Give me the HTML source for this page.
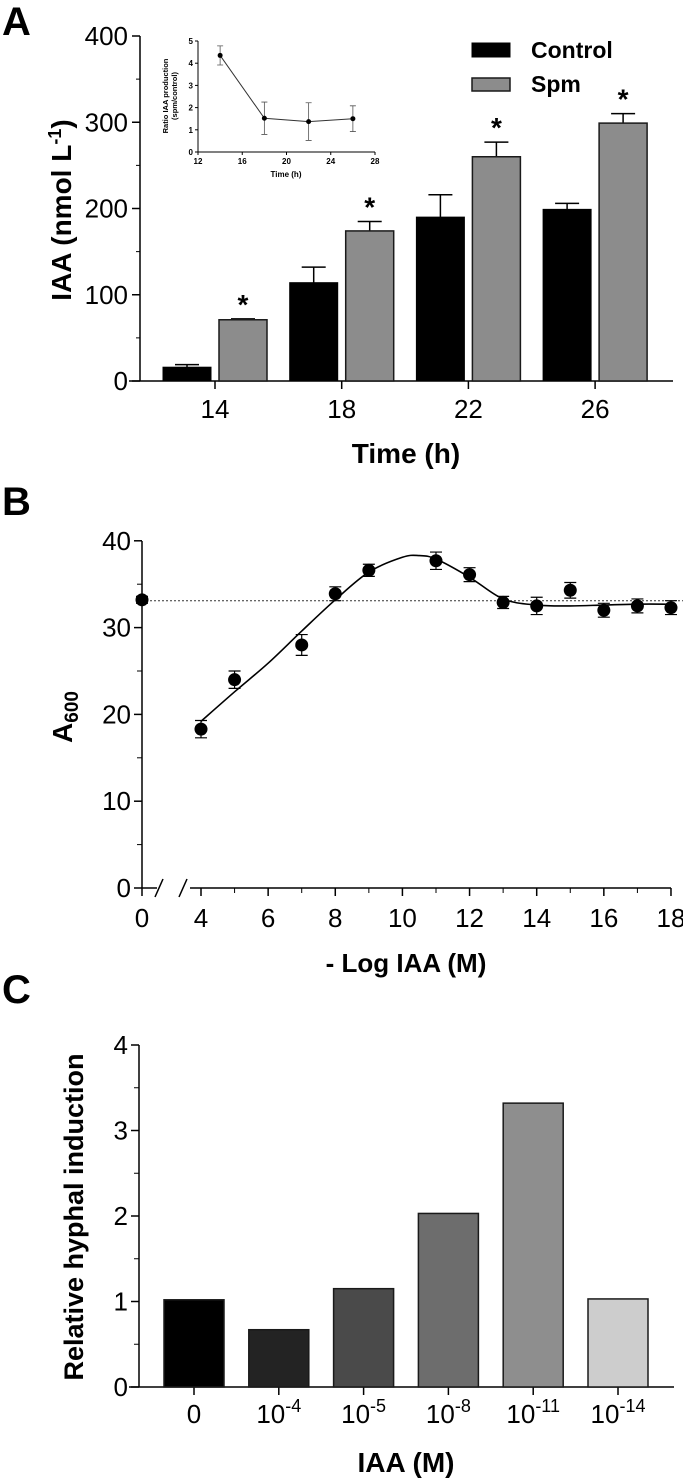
<!DOCTYPE html>
<html><head><meta charset="utf-8"><style>
html,body{margin:0;padding:0;background:#fff;}
svg{display:block;}
text{font-family:"Liberation Sans",sans-serif;fill:#000;}
.n{font-family:"Liberation Sans Narrow","Liberation Sans",sans-serif;}
.b{font-weight:bold;}
</style></head><body>
<svg id="fig" width="683" height="1480" viewBox="0 0 683 1480" xmlns="http://www.w3.org/2000/svg">
<text x="2" y="35" class="b" font-size="40">A</text>
<text x="2" y="515" class="b" font-size="40">B</text>
<text x="2" y="1003" class="b" font-size="40">C</text>
<g id="pa"></g>
<g id="pb"></g>
<g id="pc"></g>
</svg>
<script>
// Panel A data
const aTimes=[14,18,22,26];
const aControl=[16,114,190,199];
const aControlErr=[3,18,26,7];
const aSpm=[71,174,260,299];
const aSpmErr=[1,11,17,11];
const aYTicks=[0,100,200,300,400];
// Inset data
const inTimes=[14,18,22,26];
const inRatio=[4.35,1.52,1.37,1.5];
const inErr=[0.43,0.73,0.85,0.58];
const inXTicks=[12,16,20,24,28];
const inYTicks=[0,1,2,3,4,5];
// Panel B data
const bX=[0,4,5,7,8,9,11,12,13,14,15,16,17,18];
const bY=[33.2,18.3,24,28,33.9,36.6,37.7,36.1,32.9,32.5,34.3,32,32.5,32.3];
const bErr=[0.4,1,1,1.2,0.8,0.7,1,0.8,0.7,1,0.9,0.8,0.8,0.8];
const bCurveX=[4,5,6,7,8,9,10,10.5,11,12,13,14,15,16,17,18];
const bCurveY=[19.2,22.6,25.9,29.6,33.2,36.4,38.1,38.3,37.9,35.8,33.3,32.6,32.5,32.6,32.7,32.7];
const bBaseline=33.1;
const bYTicks=[0,10,20,30,40];
const bXTicks=[0,4,6,8,10,12,14,16,18];
// Panel C data
const cCats=["0","10|-4","10|-5","10|-8","10|-11","10|-14"];
const cVals=[1.02,0.67,1.15,2.03,3.32,1.03];
const cFills=["#000000","#232323","#4a4a4a","#6d6d6d","#8e8e8e","#cdcdcd"];
const cYTicks=[0,1,2,3,4];

const NS="http://www.w3.org/2000/svg";
function mk(p,tag,at,txt){const e=document.createElementNS(NS,tag);for(const k in at)e.setAttribute(k,at[k]);if(txt!==undefined)e.textContent=txt;p.appendChild(e);return e;}

// ---------- Panel A ----------
(function(){
const g=document.getElementById('pa');
const y=v=>381-v*0.8625;
const xc=t=>215+(t-14)/4*126.7;
mk(g,'line',{x1:140,y1:36,x2:140,y2:381,stroke:'#000','stroke-width':1.5});
mk(g,'line',{x1:129,y1:381,x2:673,y2:381,stroke:'#000','stroke-width':1.5});
aYTicks.forEach(v=>{
 mk(g,'line',{x1:132,y1:y(v),x2:140,y2:y(v),stroke:'#000','stroke-width':1.5});
 const t=mk(g,'text',{x:128,y:y(v)+9,'text-anchor':'end','font-size':26,class:'n'},String(v));
 
});
for(let v=50;v<400;v+=100){mk(g,'line',{x1:136,y1:y(v),x2:140,y2:y(v),stroke:'#000','stroke-width':1});}
aTimes.forEach((t,i)=>{
 const c=xc(t);
 mk(g,'line',{x1:c,y1:381,x2:c,y2:389,stroke:'#000','stroke-width':1.5});
 const tl=mk(g,'text',{x:c,y:418,'text-anchor':'middle','font-size':26,class:'n'},String(t));
 
 const cx=c-52, sx=c+4, w=48;
 mk(g,'line',{x1:cx+w/2,y1:y(aControl[i]),x2:cx+w/2,y2:y(aControl[i]+aControlErr[i]),stroke:'#000','stroke-width':1.5});
 mk(g,'line',{x1:cx+w/2-12,y1:y(aControl[i]+aControlErr[i]),x2:cx+w/2+12,y2:y(aControl[i]+aControlErr[i]),stroke:'#000','stroke-width':1.5});
 const b1=mk(g,'rect',{x:cx,y:y(aControl[i]),width:w,height:y(0)-y(aControl[i]),fill:'#000',stroke:'#000'});
 
 mk(g,'line',{x1:sx+w/2,y1:y(aSpm[i]),x2:sx+w/2,y2:y(aSpm[i]+aSpmErr[i]),stroke:'#000','stroke-width':1.5});
 mk(g,'line',{x1:sx+w/2-12,y1:y(aSpm[i]+aSpmErr[i]),x2:sx+w/2+12,y2:y(aSpm[i]+aSpmErr[i]),stroke:'#000','stroke-width':1.5});
 const b2=mk(g,'rect',{x:sx,y:y(aSpm[i]),width:w,height:y(0)-y(aSpm[i]),fill:'#8c8c8c',stroke:'#1a1a1a','stroke-width':1.5});
 
 const st=mk(g,'text',{x:sx+w/2,y:y(aSpm[i]+aSpmErr[i])-5,'text-anchor':'middle','font-size':28,class:'b'},'*');
 
});
const xt=mk(g,'text',{x:406,y:463,'text-anchor':'middle','font-size':28,class:'b n'},'Time (h)');

const yt=mk(g,'text',{transform:'translate(71,210) rotate(-90)','text-anchor':'middle','font-size':28,class:'b'});

yt.innerHTML='IAA (nmol L<tspan dy="-10" font-size="18">-1</tspan><tspan dy="10">)</tspan>';
const l1=mk(g,'rect',{x:472,y:43,width:38,height:14,fill:'#000',stroke:'#000'});

const lt1=mk(g,'text',{x:531,y:58,'font-size':23,class:'b'},'Control');

const l2=mk(g,'rect',{x:472,y:78,width:38,height:13,fill:'#8c8c8c',stroke:'#1a1a1a','stroke-width':1.5});

const lt2=mk(g,'text',{x:531,y:92,'font-size':23,class:'b'},'Spm');

const ig=mk(g,'g',{});

const ix=t=>198+(t-12)/16*177;
const iy=v=>152-v*22.2;
mk(ig,'line',{x1:198,y1:41,x2:198,y2:152,stroke:'#000','stroke-width':1});
mk(ig,'line',{x1:198,y1:152,x2:375,y2:152,stroke:'#000','stroke-width':1});
inYTicks.forEach(v=>{mk(ig,'line',{x1:195,y1:iy(v),x2:198,y2:iy(v),stroke:'#000'});
 mk(ig,'text',{x:193,y:iy(v)+3,'text-anchor':'end','font-size':8,class:'b'},String(v));});
inXTicks.forEach(v=>{mk(ig,'line',{x1:ix(v),y1:152,x2:ix(v),y2:155,stroke:'#000'});
 mk(ig,'text',{x:ix(v),y:164,'text-anchor':'middle','font-size':8,class:'b'},String(v));});
mk(ig,'text',{x:286,y:177,'text-anchor':'middle','font-size':8,class:'b'},'Time (h)');
mk(ig,'text',{transform:'translate(168,96) rotate(-90)','text-anchor':'middle','font-size':7.5,class:'b'},'Ratio IAA production');
mk(ig,'text',{transform:'translate(177,96) rotate(-90)','text-anchor':'middle','font-size':7.5,class:'b'},'(spm/control)');
mk(ig,'polyline',{points:inTimes.map((t,i)=>ix(t)+','+iy(inRatio[i])).join(' '),fill:'none',stroke:'#333','stroke-width':1});
inTimes.forEach((t,i)=>{
 const X=ix(t);
 mk(ig,'path',{d:`M${X} ${iy(inRatio[i]-inErr[i])}V${iy(inRatio[i]+inErr[i])}M${X-3} ${iy(inRatio[i]-inErr[i])}h6M${X-3} ${iy(inRatio[i]+inErr[i])}h6`,stroke:'#555',fill:'none','stroke-width':0.8});
 const p=mk(ig,'circle',{cx:X,cy:iy(inRatio[i]),r:2.5,fill:'#000'});
 
});
})();

// ---------- Panel B ----------
(function(){
const g=document.getElementById('pb');
const y=v=>888-v*8.68;
const x=v=>v===0?142:201+(v-4)*33.57;
mk(g,'line',{x1:142,y1:541,x2:142,y2:888,stroke:'#000','stroke-width':1.5});
mk(g,'path',{d:'M142 888H157M190 888H671',stroke:'#000','stroke-width':1.5,fill:'none'});
mk(g,'path',{d:'M155 897L163 879M179 897L187 879',stroke:'#000','stroke-width':1.5,fill:'none'});
bYTicks.forEach(v=>{mk(g,'line',{x1:134,y1:y(v),x2:142,y2:y(v),stroke:'#000','stroke-width':1.5});
 const t=mk(g,'text',{x:131,y:y(v)+9,'text-anchor':'end','font-size':26,class:'n'},String(v));
 });
for(let v=5;v<40;v+=10)mk(g,'line',{x1:137,y1:y(v),x2:142,y2:y(v),stroke:'#000','stroke-width':1});
bXTicks.forEach(v=>{mk(g,'line',{x1:x(v),y1:888,x2:x(v),y2:896,stroke:'#000','stroke-width':1.5});
 const t=mk(g,'text',{x:x(v),y:927,'text-anchor':'middle','font-size':26,class:'n'},String(v));
 });
[5,7,9,11,13,15,17].forEach(v=>mk(g,'line',{x1:x(v),y1:888,x2:x(v),y2:893,stroke:'#000','stroke-width':1}));
const bl=mk(g,'line',{x1:142,y1:y(bBaseline),x2:683,y2:y(bBaseline),stroke:'#333','stroke-width':1,'stroke-dasharray':'2,2'});

const P=bCurveX.map((v,i)=>[x(v),y(bCurveY[i])]);
let d='M'+P[0][0]+' '+P[0][1];
for(let i=0;i<P.length-1;i++){const p0=P[Math.max(0,i-1)],p1=P[i],p2=P[i+1],p3=P[Math.min(P.length-1,i+2)];
 d+=` C${p1[0]+(p2[0]-p0[0])/6} ${p1[1]+(p2[1]-p0[1])/6} ${p2[0]-(p3[0]-p1[0])/6} ${p2[1]-(p3[1]-p1[1])/6} ${p2[0]} ${p2[1]}`;}
const cv=mk(g,'path',{d:d,fill:'none',stroke:'#000','stroke-width':1.6});

bX.forEach((v,i)=>{const X=x(v),lo=y(bY[i]-bErr[i]),hi=y(bY[i]+bErr[i]);
 mk(g,'path',{d:`M${X} ${lo}V${hi}M${X-6} ${lo}h12M${X-6} ${hi}h12`,stroke:'#000','stroke-width':1.2,fill:'none'});
 const c=mk(g,'circle',{cx:X,cy:y(bY[i]),r:6.5,fill:'#000'});
 });
const xt=mk(g,'text',{x:406,y:972,'text-anchor':'middle','font-size':26,class:'b'},'- Log IAA (M)');

const yt=mk(g,'text',{transform:'translate(72,717) rotate(-90)','text-anchor':'middle','font-size':28,class:'b'});

yt.innerHTML='A<tspan dy="6" font-size="19">600</tspan>';
})();

// ---------- Panel C ----------
(function(){
const g=document.getElementById('pc');
const y=v=>1387-v*85.5;
const x=i=>194+i*84.8;
mk(g,'line',{x1:139,y1:1045,x2:139,y2:1387,stroke:'#000','stroke-width':1.5});
mk(g,'line',{x1:129,y1:1387,x2:674,y2:1387,stroke:'#000','stroke-width':1.5});
cYTicks.forEach(v=>{mk(g,'line',{x1:131,y1:y(v),x2:139,y2:y(v),stroke:'#000','stroke-width':1.5});
 const t=mk(g,'text',{x:128,y:y(v)+9,'text-anchor':'end','font-size':26,class:'n'},String(v));
 });
for(let v=0.5;v<4;v+=1)mk(g,'line',{x1:134,y1:y(v),x2:139,y2:y(v),stroke:'#000','stroke-width':1});
cCats.forEach((c,i)=>{const X=x(i);
 mk(g,'line',{x1:X,y1:1387,x2:X,y2:1395,stroke:'#000','stroke-width':1.5});
 const b=mk(g,'rect',{x:X-30,y:y(cVals[i]),width:60,height:y(0)-y(cVals[i]),fill:cFills[i],stroke:'#1a1a1a','stroke-width':1.5});
 
 const t=mk(g,'text',{x:X,y:1423,'text-anchor':'middle','font-size':26,class:'n'});
 
 const parts=c.split('|');
 if(parts.length===1)t.textContent=parts[0];
 else t.innerHTML=parts[0]+'<tspan dy="-11" font-size="18">'+parts[1]+'</tspan>';
});
const xt=mk(g,'text',{x:406,y:1472,'text-anchor':'middle','font-size':28,class:'b n'},'IAA (M)');

const yt=mk(g,'text',{transform:'translate(83,1217) rotate(-90)','text-anchor':'middle','font-size':27,class:'b'},'Relative hyphal induction');

})();
</script>
</body></html>
